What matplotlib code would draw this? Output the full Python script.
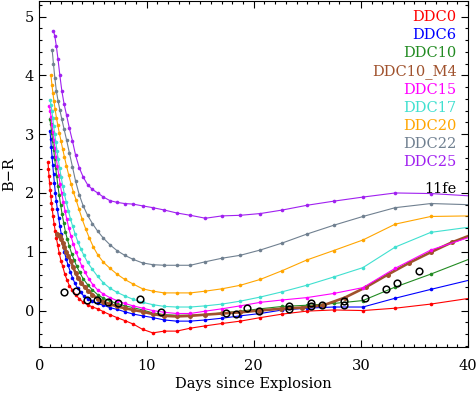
import matplotlib
matplotlib.use('Agg')
import matplotlib.pyplot as plt
from matplotlib.ticker import MultipleLocator

# shared model epochs after ~8 days (days since explosion)
t_late = [8.75, 9.62, 10.58, 11.64, 12.80, 14.08, 15.49, 17.04, 18.75, 20.62,
          22.68, 24.95, 27.45, 30.19, 33.21, 36.53, 40.19]

t_ddc0 = [0.80, 0.84, 0.89, 0.94, 1.00, 1.06, 1.12, 1.19, 1.27, 1.36, 1.46, 1.57,
          1.70, 1.84, 2.00, 2.17, 2.36, 2.57, 2.80, 3.07, 3.37, 3.71, 4.08, 4.49,
          4.94, 5.43, 5.97, 6.57, 7.23, 7.95] + t_late
br_ddc0 = [2.52, 2.40, 2.28, 2.17, 2.05, 1.94, 1.83, 1.72, 1.60, 1.48, 1.36, 1.24,
           1.11, 0.98, 0.85, 0.75, 0.62, 0.52, 0.42, 0.35, 0.27, 0.20, 0.14, 0.10,
           0.06, 0.03, -0.02, -0.07, -0.12, -0.17,
           -0.23, -0.32, -0.38, -0.35, -0.35, -0.30, -0.26, -0.22, -0.18, -0.12,
           -0.06, -0.01, 0.01, 0.00, 0.04, 0.11, 0.21]

t_ddc6 = [0.98, 1.04, 1.10, 1.17, 1.24, 1.31, 1.39, 1.48, 1.57, 1.67, 1.78, 1.90,
          2.03, 2.17, 2.32, 2.49, 2.67, 2.87, 3.08, 3.31, 3.56, 3.83, 4.12, 4.49,
          4.94, 5.43, 5.97, 6.57, 7.23, 7.95] + t_late
br_ddc6 = [3.05, 2.92, 2.78, 2.62, 2.47, 2.32, 2.17, 2.00, 1.86, 1.72, 1.58, 1.44,
           1.30, 1.15, 1.00, 0.88, 0.77, 0.66, 0.56, 0.46, 0.38, 0.31, 0.25, 0.20,
           0.16, 0.12, 0.09, 0.05, 0.02, -0.02,
           -0.06, -0.09, -0.12, -0.16, -0.18, -0.18, -0.16, -0.13, -0.09, -0.05,
           0.01, 0.04, 0.06, 0.06, 0.21, 0.36, 0.52]

t_ddc10 = [0.95, 1.05, 1.14, 1.23, 1.33, 1.42, 1.51, 1.61, 1.72, 1.84, 1.97, 2.11,
           2.26, 2.42, 2.60, 2.79, 3.00, 3.23, 3.48, 3.75, 4.08, 4.49, 4.94, 5.43,
           5.97, 6.57, 7.23, 7.95] + t_late
br_ddc10 = [3.25, 3.17, 3.02, 2.88, 2.73, 2.58, 2.43, 2.28, 2.12, 1.96, 1.80, 1.64,
            1.49, 1.34, 1.21, 1.09, 0.97, 0.86, 0.75, 0.65, 0.54, 0.44, 0.35, 0.27,
            0.21, 0.16, 0.12, 0.08,
            0.05, 0.01, -0.04, -0.07, -0.08, -0.08, -0.07, -0.04, -0.01, 0.03,
            0.07, 0.09, 0.12, 0.17, 0.40, 0.62, 0.88]

t_ddc10m4 = [1.63, 1.75, 1.88, 2.02, 2.17, 2.33, 2.51, 2.70, 2.91, 3.13, 3.37, 3.63,
             3.91, 4.21, 4.53, 4.94, 5.43, 5.97, 6.57, 7.23, 7.95, 8.75, 9.62, 10.58,
             11.64, 12.80, 14.08, 15.49, 17.04, 18.75, 20.5, 22.5, 24.5, 26.5, 28.5,
             30.5, 32.5, 34.5, 36.5, 38.5, 40.5]
br_ddc10m4 = [1.30, 1.29, 1.26, 1.21, 1.15, 1.08, 1.00, 0.93, 0.85, 0.74, 0.64, 0.55,
              0.47, 0.40, 0.34, 0.27, 0.20, 0.15, 0.11, 0.07, 0.04, 0.01, -0.02, -0.06,
              -0.09, -0.10, -0.09, -0.07, -0.05, -0.03, 0.00, 0.03, 0.05, 0.09, 0.22,
              0.40, 0.61, 0.81, 0.99, 1.16, 1.30]

t_ddc15 = [0.92, 1.00, 1.08, 1.16, 1.25, 1.34, 1.44, 1.55, 1.67, 1.80, 1.93, 2.07,
           2.22, 2.38, 2.55, 2.74, 2.94, 3.16, 3.40, 3.66, 3.94, 4.25, 4.60, 4.98,
           5.43, 5.97, 6.57, 7.23, 7.95] + t_late
br_ddc15 = [3.48, 3.40, 3.29, 3.16, 3.03, 2.90, 2.76, 2.62, 2.46, 2.30, 2.15, 2.00,
            1.85, 1.70, 1.55, 1.40, 1.26, 1.13, 1.00, 0.88, 0.76, 0.65, 0.54, 0.44,
            0.35, 0.28, 0.22, 0.17, 0.12,
            0.08, 0.04, 0.00, -0.03, -0.05, -0.05, -0.01, 0.03, 0.08, 0.14,
            0.18, 0.22, 0.29, 0.39, 0.72, 1.03, 1.25]

t_ddc17 = [1.00, 1.07, 1.15, 1.23, 1.32, 1.42, 1.52, 1.63, 1.75, 1.88, 2.02, 2.17,
           2.33, 2.50, 2.69, 2.89, 3.10, 3.33, 3.58, 3.85, 4.14, 4.49, 4.94, 5.43,
           5.97, 6.57, 7.23, 7.95] + t_late
br_ddc17 = [3.58, 3.50, 3.40, 3.28, 3.14, 3.00, 2.86, 2.72, 2.57, 2.42, 2.27, 2.12,
            1.98, 1.84, 1.70, 1.56, 1.43, 1.30, 1.17, 1.05, 0.94, 0.82, 0.70, 0.58,
            0.47, 0.38, 0.31, 0.25,
            0.19, 0.14, 0.10, 0.07, 0.06, 0.06, 0.08, 0.11, 0.16, 0.23,
            0.32, 0.43, 0.57, 0.73, 1.08, 1.33, 1.42]

t_ddc20 = [1.07, 1.16, 1.25, 1.35, 1.46, 1.58, 1.71, 1.85, 2.00, 2.16, 2.33, 2.52,
           2.72, 2.94, 3.17, 3.42, 3.69, 3.99, 4.31, 4.66, 5.03, 5.43, 5.97, 6.57,
           7.23, 7.95] + t_late
br_ddc20 = [4.00, 3.84, 3.70, 3.56, 3.42, 3.28, 3.15, 3.02, 2.89, 2.75, 2.61, 2.46,
            2.31, 2.16, 2.01, 1.88, 1.72, 1.55, 1.39, 1.23, 1.08, 0.95, 0.82, 0.72,
            0.62, 0.53,
            0.45, 0.37, 0.33, 0.30, 0.30, 0.30, 0.33, 0.37, 0.43, 0.53,
            0.68, 0.86, 1.02, 1.20, 1.47, 1.60, 1.61]

t_ddc22 = [1.18, 1.30, 1.43, 1.57, 1.73, 1.90, 2.09, 2.30, 2.53, 2.79, 3.07, 3.37,
           3.71, 4.08, 4.49, 4.94, 5.43, 5.97, 6.57, 7.23, 7.95] + t_late
br_ddc22 = [4.44, 4.20, 3.96, 3.74, 3.57, 3.41, 3.25, 3.08, 2.90, 2.68, 2.45, 2.20,
            1.97, 1.78, 1.62, 1.48, 1.35, 1.23, 1.12, 1.02, 0.94,
            0.87, 0.81, 0.78, 0.77, 0.77, 0.77, 0.83, 0.89, 0.94, 1.03,
            1.15, 1.30, 1.45, 1.60, 1.75, 1.82, 1.80]

t_ddc25 = [1.30, 1.43, 1.57, 1.73, 1.90, 2.09, 2.30, 2.53, 2.79, 3.07, 3.37, 3.71,
           4.08, 4.49, 4.94, 5.43, 5.97, 6.57, 7.23, 7.95] + t_late
br_ddc25 = [4.76, 4.67, 4.50, 4.27, 4.00, 3.73, 3.51, 3.32, 3.10, 2.89, 2.64, 2.43,
            2.27, 2.14, 2.06, 2.00, 1.93, 1.87, 1.84, 1.82,
            1.81, 1.78, 1.75, 1.71, 1.66, 1.62, 1.57, 1.61, 1.62, 1.65,
            1.71, 1.79, 1.86, 1.93, 2.00, 1.99, 1.95]

# SN 2011fe
t_11fe = [2.32, 3.38, 4.40, 5.37, 6.37, 7.36, 9.38, 11.35, 17.40, 18.35, 19.35,
          20.45, 23.30, 23.30, 25.30, 25.30, 26.35, 28.40, 28.40, 30.40, 32.30,
          33.40, 35.40]
br_11fe = [0.31, 0.34, 0.18, 0.18, 0.15, 0.12, 0.20, -0.02, -0.04, -0.06, 0.04,
           0.00, 0.07, 0.02, 0.12, 0.07, 0.09, 0.17, 0.09, 0.22, 0.37, 0.46, 0.67]

names = ['DDC0', 'DDC6', 'DDC10', 'DDC10_M4', 'DDC15', 'DDC17', 'DDC20', 'DDC22', 'DDC25']
colors = ['#ff0000', '#0000ff', '#228b22', '#a0522d', '#ff00ff', '#40e0d0',
          '#ffa500', '#708090', '#a020f0']

plt.rcParams['font.family'] = ['DejaVu Serif']
plt.rcParams['font.size'] = 10.5

fig = plt.figure(figsize=(4.77, 3.94), dpi=100)
ax = fig.add_axes([39.5/477, 47.3/394, 428.5/477, 345.7/394])

models = [(t_ddc0, br_ddc0), (t_ddc6, br_ddc6), (t_ddc10, br_ddc10),
          (t_ddc10m4, br_ddc10m4), (t_ddc15, br_ddc15), (t_ddc17, br_ddc17),
          (t_ddc20, br_ddc20), (t_ddc22, br_ddc22), (t_ddc25, br_ddc25)]
for i, (t, br) in enumerate(models):
    if names[i] == 'DDC10_M4':
        ax.plot(t, br, '-o', color=colors[i], lw=1.9, ms=3.6, mew=0)
    else:
        ax.plot(t, br, '-o', color=colors[i], lw=0.8, ms=2.6, mew=0)

ax.plot(t_11fe, br_11fe, 'o', mfc='none', mec='k', ms=4.8, mew=1.1)

# labels in upper right, like the IDL plot
for i, nm in enumerate(names):
    ax.text(0.974, 0.953 - i*0.0524, nm, color=colors[i], ha='right', va='center',
            transform=ax.transAxes, fontsize=10.5)
ax.text(0.974, 0.455, '11fe', color='k', ha='right', va='center',
        transform=ax.transAxes, fontsize=10.5)

ax.set_xlim(0, 40)
ax.set_ylim(-0.615, 5.265)
ax.xaxis.set_major_locator(MultipleLocator(10))
ax.xaxis.set_minor_locator(MultipleLocator(1))
ax.yaxis.set_major_locator(MultipleLocator(1))
ax.yaxis.set_minor_locator(MultipleLocator(0.2))
ax.tick_params(which='both', direction='in', top=True, right=True, width=0.8)
ax.tick_params(which='major', length=5)
ax.tick_params(which='minor', length=2.5)
ax.tick_params(axis='x', pad=9)
ax.tick_params(axis='y', pad=4)
for s in ax.spines.values():
    s.set_linewidth(0.8)

ax.set_xlabel('Days since Explosion', labelpad=3)
ax.set_ylabel('B\u2212R', labelpad=6)

fig.savefig('out.png', dpi=100)
